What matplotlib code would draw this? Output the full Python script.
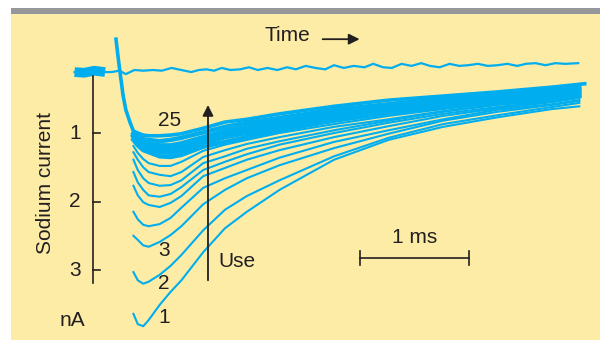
import matplotlib.pyplot as plt
from matplotlib.patches import Rectangle

# time axis in ms, current in nA (downward = inward current)
t_grid = [0.16, 0.2, 0.25, 0.3, 0.4, 0.5, 0.6, 0.8, 1.0, 1.2, 1.5, 2.0, 2.5, 3.0, 3.5, 4.0, 4.25]

# the clearly separated early traces (pulse 1, 2, 3 ...)
trace1 = [3.64, 3.79, 3.82, 3.73, 3.51, 3.32, 3.15, 2.74, 2.39, 2.15, 1.83, 1.39, 1.10, 0.91, 0.77, 0.65, 0.61]
trace2 = [3.03, 3.15, 3.20, 3.17, 3.07, 2.94, 2.78, 2.42, 2.12, 1.92, 1.69, 1.34, 1.07, 0.87, 0.74, 0.62, 0.56]
trace3 = [2.50, 2.56, 2.64, 2.66, 2.59, 2.49, 2.36, 2.04, 1.83, 1.66, 1.47, 1.22, 1.01, 0.82, 0.69, 0.59, 0.53]
trace4 = [2.15, 2.26, 2.34, 2.36, 2.33, 2.24, 2.09, 1.80, 1.66, 1.54, 1.36, 1.13, 0.96, 0.80, 0.66, 0.58, 0.52]
trace5 = [1.77, 1.91, 2.01, 2.05, 2.08, 2.02, 1.92, 1.63, 1.51, 1.39, 1.25, 1.06, 0.90, 0.75, 0.64, 0.55, 0.49]
trace6 = [1.57, 1.72, 1.83, 1.91, 1.93, 1.89, 1.79, 1.54, 1.42, 1.31, 1.17, 1.00, 0.85, 0.72, 0.62, 0.53, 0.47]
trace7 = [1.39, 1.54, 1.66, 1.73, 1.77, 1.76, 1.69, 1.44, 1.34, 1.23, 1.12, 0.96, 0.82, 0.69, 0.59, 0.52, 0.46]
trace8 = [1.28, 1.39, 1.50, 1.57, 1.61, 1.63, 1.57, 1.35, 1.25, 1.16, 1.06, 0.91, 0.80, 0.68, 0.58, 0.50, 0.44]
trace9 = [1.19, 1.29, 1.38, 1.44, 1.48, 1.48, 1.42, 1.26, 1.17, 1.10, 1.00, 0.87, 0.75, 0.65, 0.56, 0.49, 0.43]

# the dense bundle of later traces
band1 = [1.00, 1.04, 1.09, 1.10, 1.12, 1.10, 1.07, 0.99, 0.91, 0.85, 0.78, 0.66, 0.58, 0.50, 0.45, 0.37, 0.33]
band2 = [1.03, 1.09, 1.13, 1.16, 1.18, 1.18, 1.15, 1.06, 0.97, 0.91, 0.82, 0.71, 0.62, 0.53, 0.47, 0.42, 0.37]
band3 = [1.04, 1.12, 1.18, 1.20, 1.23, 1.23, 1.20, 1.10, 1.01, 0.96, 0.87, 0.75, 0.65, 0.56, 0.50, 0.45, 0.40]
band4 = [1.06, 1.15, 1.20, 1.25, 1.28, 1.29, 1.26, 1.15, 1.06, 1.00, 0.91, 0.78, 0.68, 0.59, 0.52, 0.47, 0.45]
band5 = [1.10, 1.18, 1.25, 1.28, 1.34, 1.35, 1.32, 1.20, 1.13, 1.06, 0.96, 0.82, 0.71, 0.62, 0.55, 0.49, 0.46]

# trace 25, including the capacitive spike
t_last = [0.0, 0.02, 0.04, 0.065, 0.09, 0.13, 0.16, 0.2, 0.25, 0.3, 0.4, 0.5, 0.6, 0.8, 1.0, 1.2, 1.5, 2.0, 2.5, 3.0, 3.5, 4.0, 4.3]
trace25 = [-0.37, -0.10, 0.15, 0.45, 0.66, 0.85, 0.97, 1.00, 1.03, 1.04, 1.04, 1.03, 1.01, 0.93, 0.84, 0.80, 0.72, 0.61, 0.52, 0.46, 0.40, 0.33, 0.28]

# baseline (no sodium current) trace
t_base = [-0.38, -0.29, -0.2, -0.1, -0.04, 0.03, 0.09, 0.17, 0.25, 0.34, 0.42, 0.51, 0.6, 0.69, 0.76,
          0.83, 0.9, 0.97, 1.05, 1.14, 1.22, 1.3, 1.39, 1.48, 1.57, 1.65, 1.74, 1.83, 1.92, 2.0,
          2.09, 2.18, 2.28, 2.36, 2.45, 2.53, 2.62, 2.71, 2.8, 2.88, 2.97, 3.06, 3.15, 3.23, 3.32,
          3.41, 3.5, 3.59, 3.68, 3.76, 3.85, 3.94, 4.03, 4.12, 4.24]
i_base = [0.11, 0.12, 0.09, 0.11, 0.11, 0.09, 0.14, 0.08, 0.09, 0.08, 0.09, 0.05, 0.08, 0.11, 0.08,
          0.07, 0.09, 0.05, 0.08, 0.07, 0.04, 0.08, 0.05, 0.08, 0.04, 0.07, 0.02, 0.05, 0.07, 0.01,
          0.05, 0.02, 0.04, -0.01, 0.04, 0.05, -0.01, 0.02, -0.02, 0.02, 0.04, -0.01, 0.02, 0.01, -0.01,
          0.02, 0.01, -0.01, 0.02, -0.01, -0.02, 0.01, -0.02, -0.01, -0.02]

scale_ticks = [1, 2, 3]
scale_labels = ['1', '2', '3']

cyan = '#00aeef'
yellow = '#fdeca6'
ink = '#231f20'

plt.rcParams['font.family'] = ['Liberation Sans', 'DejaVu Sans']

fig = plt.figure(figsize=(6, 3.41), dpi=100)
ax = fig.add_axes([0, 0, 1, 1])
ax.set_xlim(-1.064, 4.440)
ax.set_ylim(4.036, -0.942)
ax.axis('off')

# panel background and grey top rule
ax.add_patch(Rectangle((0.018, 0.003), 0.982, 0.956, transform=ax.transAxes,
                       facecolor=yellow, edgecolor='none', zorder=0))
ax.add_patch(Rectangle((0.018, 0.959), 0.982, 0.018, transform=ax.transAxes,
                       facecolor='#96979a', edgecolor='none', zorder=0))

# current traces
ax.plot(t_base, i_base, color=cyan, lw=1.6, zorder=3)
ax.plot(t_base[:4], i_base[:4], color=cyan, lw=7, solid_capstyle='butt', zorder=3)
for tr in [trace1, trace2, trace3, trace4, trace5, trace6, trace7, trace8, trace9]:
    ax.plot(t_grid, tr, color=cyan, lw=1.5, zorder=3)
for tr in [band5, band4, band3, band2, band1]:
    ax.plot(t_grid, tr, color=cyan, lw=3.2, zorder=3)
ax.plot(t_last, trace25, color=cyan, lw=2.6, zorder=3)

# vertical calibration bar
ax.plot([-0.211, -0.211], [0.17, 3.19], color=ink, lw=1.2, zorder=4)
for v, lab in zip(scale_ticks, scale_labels):
    ax.plot([-0.211, -0.147], [v, v], color=ink, lw=1.2, zorder=4)
    ax.text(-0.376, v, lab, ha='center', va='center', fontsize=15, color=ink)
ax.text(-0.40, 3.73, 'nA', ha='center', va='center', fontsize=15, color=ink)
ax.text(-0.651, 1.73, 'Sodium current', rotation=90, ha='center', va='center',
        fontsize=15, color=ink)

# time label and arrow
ax.text(1.569, -0.42, 'Time', ha='center', va='center', fontsize=15, color=ink)
ax.annotate('', xy=(2.26, -0.37), xytext=(1.87, -0.37),
            arrowprops=dict(arrowstyle='-|>', color=ink, lw=1.3, mutation_scale=16))

# trace numbers
ax.text(0.495, 0.82, '25', ha='center', va='center', fontsize=15, color=ink)
ax.text(0.44, 2.72, '3', ha='center', va='center', fontsize=15, color=ink)
ax.text(0.44, 3.19, '2', ha='center', va='center', fontsize=15, color=ink)
ax.text(0.44, 3.70, '1', ha='center', va='center', fontsize=15, color=ink)

# "Use" arrow
ax.annotate('', xy=(0.844, 0.55), xytext=(0.844, 3.19),
            arrowprops=dict(arrowstyle='-|>', color=ink, lw=1.3, mutation_scale=16))
ax.text(0.936, 2.88, 'Use', ha='left', va='center', fontsize=15, color=ink)

# 1 ms scale bar
ax.plot([2.239, 3.239], [2.825, 2.825], color=ink, lw=1.2)
ax.plot([2.239, 2.239], [2.72, 2.93], color=ink, lw=1.2)
ax.plot([3.239, 3.239], [2.72, 2.93], color=ink, lw=1.2)
ax.text(2.74, 2.52, '1 ms', ha='center', va='center', fontsize=15, color=ink)

fig.savefig('out.png', dpi=100, facecolor='white')
